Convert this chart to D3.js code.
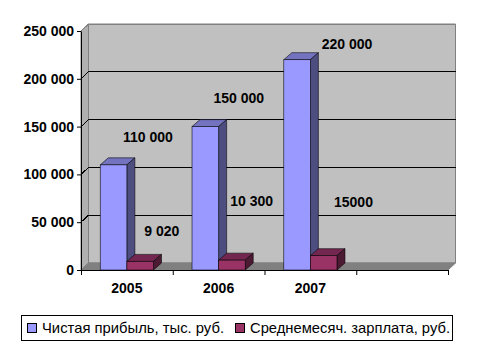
<!DOCTYPE html>
<html><head><meta charset="utf-8">
<script src="https://cdn.jsdelivr.net/npm/d3@7"></script>
<style>body{margin:0;background:#fff} svg{display:block}</style>
</head><body>
<svg id="c" width="477" height="351"></svg>
<script>
const categories = ["2005", "2006", "2007", ""];
const seriesNames = ["Чистая прибыль, тыс. руб.", "Среднемесяч. зарплата, руб."];
const profit = [110000, 150000, 220000, null];
const salary = [9020, 10300, 15000, null];
const profitLabels = ["110 000", "150 000", "220 000"];
const salaryLabels = ["9 020", "10 300", "15000"];
const yTicks = [0, 50000, 100000, 150000, 200000, 250000];
const yTickLabels = ["0", "50 000", "100 000", "150 000", "200 000", "250 000"];
// label anchors as placed in the picture: (category position, axis value)
const profitLabelCat = [0.73, 1.72, 2.90];
const profitLabelVal = [139000, 180000, 236000];
const salaryLabelCat = [0.88, 1.86, 2.97];
const salaryLabelVal = [40800, 72200, 71100];

const series = [
  {name: seriesNames[0], values: profit, labels: profitLabels, lc: profitLabelCat, lv: profitLabelVal,
   front: "#9999FF", top: "#7373BF", side: "#4D4D80"},
  {name: seriesNames[1], values: salary, labels: salaryLabels, lc: salaryLabelCat, lv: salaryLabelVal,
   front: "#993366", top: "#732650", side: "#4D1A33"}
];

const svg = d3.select("#c");
const FONT = "'Liberation Sans', Arial, sans-serif";
const X0 = 81, X1 = 448;
const x = d3.scaleBand().domain(categories).range([X0, X1]);
const xc = d3.scaleLinear().domain([0, categories.length]).range([X0, X1]);
const y = d3.scaleLinear().domain([0, 250000]).range([270, 31]);
const wdx = 7.5, wdy = -7;   // wall depth
const bdx = 8, bdy = -7;     // bar depth
const yTop = y(250000), yBot = y(0);

// back wall
svg.append("polygon")
  .attr("points", [[X0 + wdx, yTop + wdy], [X1 + wdx, yTop + wdy], [X1 + wdx, yBot + wdy], [X0 + wdx, yBot + wdy]].join(" "))
  .attr("fill", "#C0C0C0").attr("stroke", "#808080").attr("stroke-width", 1);
// left wall
svg.append("polygon")
  .attr("points", [[X0, yTop], [X0 + wdx, yTop + wdy], [X0 + wdx, yBot + wdy], [X0, yBot]].join(" "))
  .attr("fill", "#B0B0B0").attr("stroke", "#808080").attr("stroke-width", 1);
// floor
svg.append("polygon")
  .attr("points", [[X0, yBot], [X0 + wdx, yBot + wdy], [X1 + wdx, yBot + wdy], [X1, yBot]].join(" "))
  .attr("fill", "#808080").attr("stroke", "#808080").attr("stroke-width", 1);

// gridlines
svg.append("g").selectAll("path").data(yTicks.filter(t => t > 0)).join("path")
  .attr("d", t => `M${X0},${y(t)}L${X0 + wdx},${y(t) + wdy}L${X1 + wdx},${y(t) + wdy}`)
  .attr("fill", "none")
  .attr("stroke", t => t === 250000 ? "#808080" : "#000")
  .attr("stroke-width", 1)
  .attr("shape-rendering", "crispEdges");

// bars
const barW = x.bandwidth() * 0.29;
const off = (x.bandwidth() - 2 * barW) / 2;
const bars = svg.append("g");
categories.forEach((c, i) => {
  series.forEach((s, si) => {
    const v = s.values[i];
    if (v == null) return;
    const fx = x(c) + off + si * barW, fw = barW, ty = y(v), by = y(0);
    const g = bars.append("g").attr("stroke", "#000").attr("stroke-width", 0.7).attr("stroke-opacity", 0.8);
    g.append("polygon").attr("fill", s.top)
      .attr("points", [[fx, ty], [fx + bdx, ty + bdy], [fx + fw + bdx, ty + bdy], [fx + fw, ty]].join(" "));
    g.append("polygon").attr("fill", s.side)
      .attr("points", [[fx + fw, ty], [fx + fw + bdx, ty + bdy], [fx + fw + bdx, by + bdy], [fx + fw, by]].join(" "));
    g.append("rect").attr("fill", s.front)
      .attr("x", fx).attr("y", ty).attr("width", fw).attr("height", by - ty);
  });
});

// y axis
const ya = svg.append("g").attr("transform", `translate(${X0},0)`)
  .call(d3.axisLeft(y).tickValues(yTicks).tickFormat((d, i) => yTickLabels[i]).tickSize(4).tickSizeOuter(0).tickPadding(3));
ya.selectAll("text").attr("font-family", FONT).attr("font-size", 14).attr("font-weight", "bold").attr("fill", "#000");
ya.selectAll("line,path").attr("stroke", "#000");

// x axis
const xa = svg.append("g").attr("transform", `translate(0,${yBot})`)
  .call(d3.axisBottom(xc).tickValues(d3.range(categories.length + 1)).tickFormat("").tickSize(5).tickSizeOuter(0));
xa.selectAll("line,path").attr("stroke", "#000");
svg.append("g").selectAll("text").data(categories).join("text")
  .attr("x", d => x(d) + x.bandwidth() / 2).attr("y", 288).attr("dy", "0.35em")
  .attr("text-anchor", "middle")
  .attr("font-family", FONT).attr("font-size", 14).attr("font-weight", "bold")
  .text(d => d);

// data labels
series.forEach(s => {
  svg.append("g").selectAll("text").data(s.labels).join("text")
    .attr("x", (d, i) => xc(s.lc[i])).attr("y", (d, i) => y(s.lv[i])).attr("dy", "0.35em")
    .attr("text-anchor", "middle")
    .attr("font-family", FONT).attr("font-size", 14).attr("font-weight", "bold")
    .text(d => d);
});

// legend
const lg = svg.append("g");
lg.append("rect").attr("x", 21.5).attr("y", 315.5).attr("width", 431).attr("height", 25)
  .attr("fill", "#fff").attr("stroke", "#000").attr("stroke-width", 1);
const legX = [27.5, 235.5];
const legTextW = [182, 200];
series.forEach((s, i) => {
  lg.append("rect").attr("x", legX[i]).attr("y", 323.5).attr("width", 9).attr("height", 9)
    .attr("fill", s.front).attr("stroke", "#000").attr("stroke-width", 1);
  lg.append("text").attr("x", legX[i] + 14.5).attr("y", 328).attr("dy", "0.35em")
    .attr("font-family", FONT).attr("font-size", 15)
    .attr("textLength", legTextW[i]).attr("lengthAdjust", "spacingAndGlyphs")
    .text(s.name);
});
</script>
</body></html>
